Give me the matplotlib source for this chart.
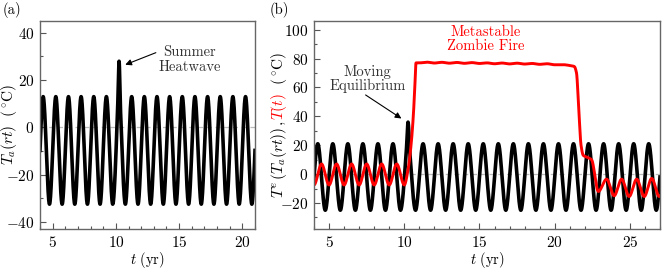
import numpy as np
import matplotlib
matplotlib.use("Agg")
import matplotlib.pyplot as plt
from matplotlib.ticker import MultipleLocator

plt.rcParams.update({
    "font.family": "serif",
    "font.serif": ["cmr10"],
    "mathtext.fontset": "cm",
    "axes.formatter.use_mathtext": True,
    "font.size": 10,
})

# (a) forcing T_a(rt): extrema (+ the heatwave spike at t~10.25)
TA_T = [3.75, 4.25, 4.75, 5.25, 5.75, 6.25, 6.75, 7.25, 7.75, 8.25, 8.75, 9.25,
        9.75, 10.13, 10.25, 10.37, 10.75, 11.25, 11.75, 12.25, 12.75, 13.25,
        13.75, 14.25, 14.75, 15.25, 15.75, 16.25, 16.75, 17.25, 17.75, 18.25,
        18.75, 19.25, 19.75, 20.25, 20.75, 21.25]
TA_V = [-32.5, 13, -32.5, 13, -32.5, 13, -32.5, 13, -32.5, 13, -32.5, 13,
        -32.5, 6.6, 28, 6.6, -32.5, 13, -32.5, 13, -32.5, 13,
        -32.5, 13, -32.5, 13, -32.5, 13, -32.5, 13, -32.5, 13,
        -32.5, 13, -32.5, 13, -32.5, 13]

# (b) moving equilibrium T^e(T_a(rt))
TE_T = [3.75, 4.25, 4.75, 5.25, 5.75, 6.25, 6.75, 7.25, 7.75, 8.25, 8.75, 9.25,
        9.75, 10.13, 10.25, 10.37, 10.75, 11.25, 11.75, 12.25, 12.75, 13.25,
        13.75, 14.25, 14.75, 15.25, 15.75, 16.25, 16.75, 17.25, 17.75, 18.25,
        18.75, 19.25, 19.75, 20.25, 20.75, 21.25, 21.75, 22.25, 22.75, 23.25,
        23.75, 24.25, 24.75, 25.25, 25.75, 26.25, 26.75, 27.25]
TE_V = [-25, 21, -25, 21, -25, 21, -25, 21, -25, 21, -25, 21,
        -25, 14.8, 36, 14.8, -25, 21, -25, 21, -25, 21,
        -25, 21, -25, 21, -25, 21, -25, 21, -25, 21,
        -25, 21, -25, 21, -25, 21, -25, 21, -25, 21,
        -25, 21, -25, 21, -25, 21, -25, 21]

# (b) fire temperature T(t)
T_T = [3.5, 4.0, 4.5, 5.0, 5.5, 6.0, 6.5, 7.0, 7.5, 8.0, 8.5, 9.0, 9.5, 10.0,
       10.25, 10.45, 10.6, 10.7, 10.78,
       11.0, 11.5, 12.0, 12.5, 13.0, 13.5, 14.0, 14.5, 15.0, 15.5, 16.0, 16.5,
       17.0, 17.5, 18.0, 18.5, 19.0, 19.5, 20.0, 20.5, 21.0, 21.3,
       21.45, 21.6, 21.75, 21.9, 22.2, 22.45,
       22.9, 23.45, 23.95, 24.45, 24.95, 25.45, 25.95, 26.45, 26.95, 27.45]
T_V = [7, -7.5, 7, -7.5, 7, -7.5, 7, -7.5, 7, -7.5, 7, -7.5, 7, -7.5,
       3, 20, 40, 60, 77,
       77.0, 77.5, 76.9, 77.4, 76.8, 77.3, 76.7, 77.2, 76.6, 77.0, 76.4, 76.9,
       76.3, 76.8, 76.2, 76.6, 76.0, 76.4, 75.7, 75.8, 75.2, 74.5,
       70, 45, 20, 13, 11.5, 10,
       -12, -3.5, -15, -3.5, -15.5, -3.5, -15.5, -3, -15.5, -3]


def smooth(xk, yk, x):
    """monotone cubic (PCHIP) through the read-off points"""
    xk, yk = np.asarray(xk, float), np.asarray(yk, float)
    h = np.diff(xk)
    d = np.diff(yk) / h
    m = np.zeros_like(yk)
    for i in range(1, len(xk) - 1):
        if d[i - 1] * d[i] > 0:
            w1 = 2 * h[i] + h[i - 1]
            w2 = h[i] + 2 * h[i - 1]
            m[i] = (w1 + w2) / (w1 / d[i - 1] + w2 / d[i])
    i = np.clip(np.searchsorted(xk, x) - 1, 0, len(h) - 1)
    s = (x - xk[i]) / h[i]
    return ((2 * s**3 - 3 * s**2 + 1) * yk[i] + (s**3 - 2 * s**2 + s) * h[i] * m[i]
            + (-2 * s**3 + 3 * s**2) * yk[i + 1] + (s**3 - s**2) * h[i] * m[i + 1])


W, H = 664, 269
fig = plt.figure(figsize=(W / 100, H / 100), dpi=100)
axa = fig.add_axes([40 / W, 40 / H, 215 / W, 208 / H])
axb = fig.add_axes([314 / W, 40 / H, 346 / W, 208 / H])

ta = np.linspace(4, 21, 3000)
axa.plot(ta, smooth(TA_T, TA_V, ta), color="black", lw=2.6)
tb = np.linspace(4, 27, 4000)
axb.plot(tb, smooth(TE_T, TE_V, tb), color="black", lw=2.6)
axb.plot(tb, smooth(T_T, T_V, tb), color="red", lw=2.1)

for ax in (axa, axb):
    ax.axhline(0, color="#bbbbbb", lw=0.9, ls=(0, (4, 3)), zorder=0)
    ax.xaxis.set_minor_locator(MultipleLocator(1))
    ax.yaxis.set_minor_locator(MultipleLocator(10))
    ax.tick_params(which="both", direction="in", color="#555555", width=0.8,
                   labelsize=11, pad=4)
    ax.tick_params(which="major", length=4)
    ax.tick_params(which="minor", length=2.5)
    for sp in ax.spines.values():
        sp.set_color("#666666")
        sp.set_linewidth(1.0)

axa.set_xlim(4, 21)
axa.set_ylim(-43, 45)
axa.set_xticks([5, 10, 15, 20])
axa.set_yticks([-40, -20, 0, 20, 40])
axb.set_xlim(4, 27)
axb.set_ylim(-38, 106)
axb.set_xticks([5, 10, 15, 20, 25])
axb.set_yticks([-20, 0, 20, 40, 60, 80, 100])

# x labels, placed by hand so they sit where the reference has them
for xc in (147.5, 487):
    fig.text(xc / W, 1 - 260 / H, r"$t\ (\mathrm{yr})$", ha="center",
             va="center", fontsize=10.5)

# annotations
axa.text(15.8, 28.7, "Summer\nHeatwave", ha="center", va="center",
         color="#333333", fontsize=10.5, linespacing=1.05)
axa.annotate("", xy=(10.74, 26.5), xytext=(13.16, 31.6),
             arrowprops=dict(arrowstyle="-|>", color="black", lw=0.8,
                             mutation_scale=9, shrinkA=0, shrinkB=0))
axb.text(7.56, 65.9, "Moving\nEquilibrium", ha="center", va="center",
         color="#333333", fontsize=10.5, linespacing=1.05)
axb.annotate("", xy=(9.81, 38.5), xytext=(7.43, 54.8),
             arrowprops=dict(arrowstyle="-|>", color="black", lw=0.8,
                             mutation_scale=9, shrinkA=0, shrinkB=0))
axb.text(15.43, 93.6, "Metastable\nZombie Fire", ha="center", va="center",
         color="red", fontsize=10.5, linespacing=1.05)

# panel labels
fig.text(3 / W, 1 - 10 / H, "(a)", va="center", ha="left", fontsize=10.5)
fig.text(270 / W, 1 - 10 / H, "(b)", va="center", ha="left", fontsize=10.5)

# y labels (right one is two-coloured, built piece by piece)
fig.text(13 / W, 144 / H, r"$T_a(rt)\ \ (^\circ\!\mathrm{C})$", rotation=90,
         rotation_mode="anchor", ha="center", va="baseline", fontsize=11)

pieces = [(r"$T^e\,(T_a(rt))\,,\ $", "black"), (r"$T(t)$", "red"),
          (r"$\ \ (^\circ\!\mathrm{C})$", "black")]
renderer = fig.canvas.get_renderer()
texts = []
for s, c in pieces:
    texts.append(fig.text(0, 0, s, rotation=90, rotation_mode="anchor",
                          ha="left", va="baseline", color=c, fontsize=11))
lens = [t.get_window_extent(renderer).height for t in texts]
y = 144 - sum(lens) / 2
for t, L in zip(texts, lens):
    t.set_position((283 / W, y / H))
    y += L

fig.savefig("out.png", dpi=100)
